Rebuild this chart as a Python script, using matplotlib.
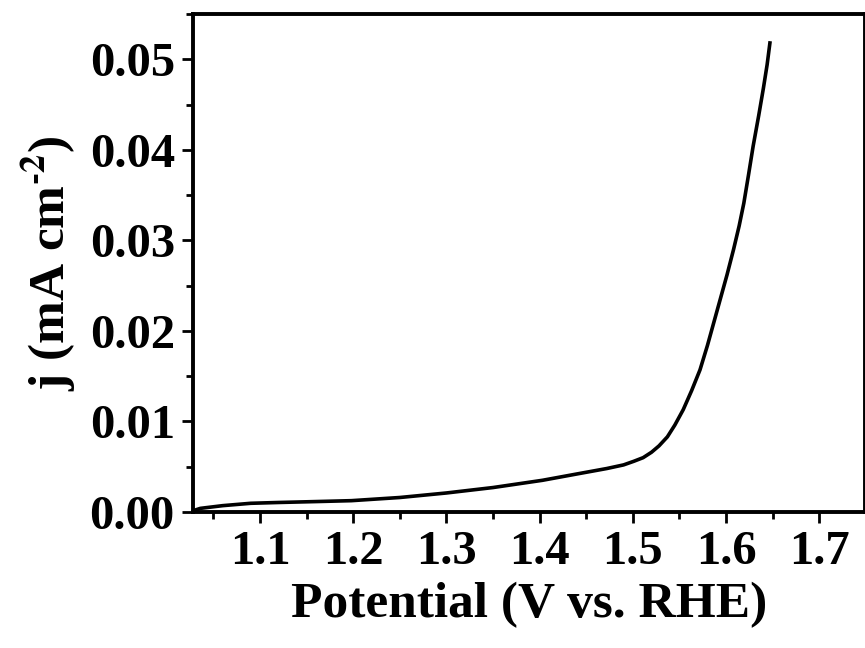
import matplotlib
matplotlib.use("Agg")
import matplotlib.pyplot as plt
from matplotlib.ticker import MultipleLocator

# LSV curve
potential = [1.030, 1.036, 1.060, 1.090, 1.120, 1.160, 1.198, 1.250, 1.300, 1.350,
             1.403, 1.440, 1.472, 1.490, 1.501, 1.511, 1.520, 1.528, 1.537, 1.545,
             1.554, 1.563, 1.572, 1.580, 1.587, 1.594, 1.601, 1.608, 1.614, 1.619,
             1.624, 1.629, 1.635, 1.640, 1.644, 1.647]
current = [0.0002, 0.0004, 0.0007, 0.00096, 0.00105, 0.00115, 0.00125, 0.0016, 0.0021, 0.0027,
           0.0035, 0.0042, 0.0048, 0.0052, 0.0056, 0.0060, 0.0066, 0.0073, 0.0083, 0.0096,
           0.0113, 0.0134, 0.0157, 0.0184, 0.0210, 0.0236, 0.0262, 0.0290, 0.0316, 0.0341,
           0.0372, 0.0404, 0.0438, 0.0468, 0.0494, 0.0518]

plt.rcParams["font.family"] = "Liberation Serif"
plt.rcParams["font.weight"] = "bold"
plt.rcParams["mathtext.fontset"] = "stix"

fig = plt.figure(figsize=(8.65, 6.48), dpi=100)
ax = fig.add_axes([0.223, 0.2099, 0.777, 0.7685])

ax.plot(potential, current, color="black", lw=2.6, solid_joinstyle="round")

ax.set_xlim(1.028, 1.749)
ax.set_ylim(0, 0.055)
ax.xaxis.set_major_locator(MultipleLocator(0.1))
ax.xaxis.set_minor_locator(MultipleLocator(0.05))
ax.yaxis.set_major_locator(MultipleLocator(0.01))
ax.yaxis.set_minor_locator(MultipleLocator(0.005))
ax.xaxis.set_major_formatter(plt.FormatStrFormatter("%.1f"))
ax.yaxis.set_major_formatter(plt.FormatStrFormatter("%.2f"))

ax.tick_params(which="major", direction="out", length=8, width=2, labelsize=35, pad=5)
ax.tick_params(which="minor", direction="out", length=5, width=2)
for s in ax.spines.values():
    s.set_linewidth(2.8)

ax.set_xlabel("Potential (V vs. RHE)", fontsize=37, fontweight="bold", labelpad=6)
ax.set_ylabel(r"j (mA cm$^{\text{-2}}$)", fontsize=37, fontweight="bold", labelpad=8)

fig.savefig("out.png", dpi=100)
